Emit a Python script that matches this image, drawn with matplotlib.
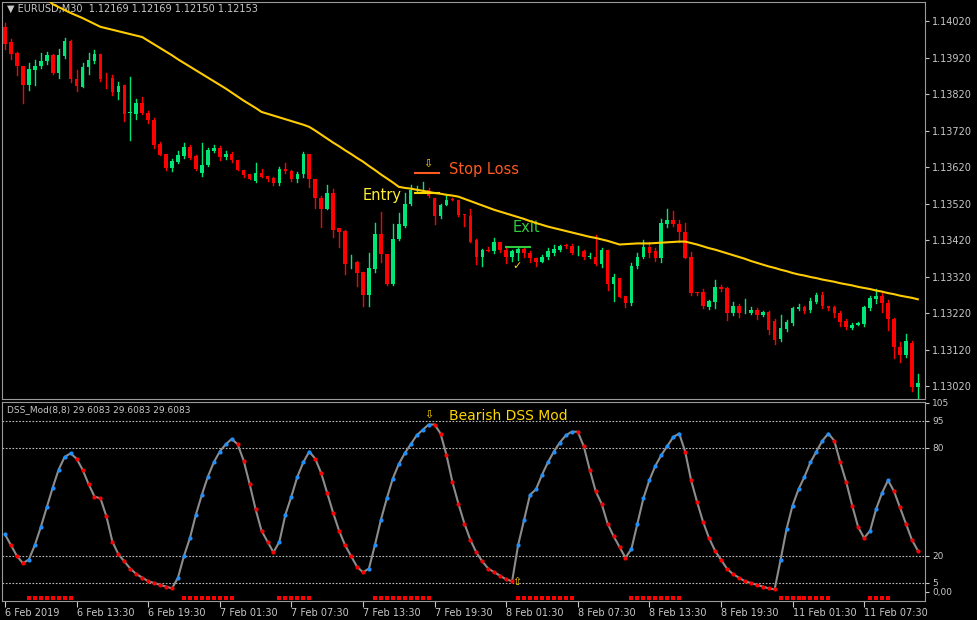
import numpy as np
import matplotlib
matplotlib.use("Agg")
import matplotlib.pyplot as plt

# --- datos (precios 1.xxxxx guardados como los 5 decimales: 14004 -> 1.14004) ---
opens = [14004, 13963, 13933, 13897, 13845, 13886, 13897, 13911, 13927, 13878,
         13924, 13965, 13862, 13840, 13894, 13911, 13930, 13862, 13864, 13826,
         13845, 13768, 13766, 13796, 13769, 13750, 13684, 13657, 13618, 13635,
         13651, 13676, 13651, 13605, 13627, 13665, 13673, 13648, 13657, 13640,
         13613, 13602, 13583, 13605, 13596, 13591, 13577, 13616, 13610, 13588,
         13602, 13657, 13586, 13536, 13506, 13550, 13452, 13446, 13359, 13359,
         13332, 13271, 13342, 13438, 13383, 13301, 13424, 13460, 13520, 13556,
         13556, 13558, 13534, 13485, 13515, 13531, 13531, 13490, 13485, 13419,
         13375, 13392, 13391, 13416, 13394, 13373, 13386, 13397, 13386, 13370,
         13359, 13373, 13384, 13394, 13405, 13405, 13389, 13389, 13375, 13375,
         13356, 13394, 13299, 13315, 13266, 13247, 13348, 13375, 13400, 13389,
         13370, 13465, 13474, 13465, 13441, 13373, 13277, 13277, 13236, 13250,
         13291, 13288, 13220, 13241, 13220, 13220, 13228, 13214, 13222, 13198,
         13149, 13176, 13193, 13231, 13236, 13228, 13250, 13269, 13241, 13236,
         13220, 13198, 13179, 13187, 13190, 13233, 13258, 13266, 13247, 13203,
         13127, 13105, 13138, 13017]
closes = [13957, 13930, 13897, 13845, 13889, 13897, 13911, 13927, 13878, 13927,
          13965, 13862, 13842, 13894, 13913, 13930, 13862, 13861, 13826, 13842,
          13766, 13768, 13796, 13769, 13750, 13681, 13654, 13618, 13638, 13654,
          13676, 13646, 13616, 13627, 13668, 13673, 13648, 13657, 13640, 13613,
          13599, 13586, 13605, 13594, 13588, 13577, 13616, 13610, 13588, 13602,
          13657, 13586, 13534, 13506, 13550, 13449, 13441, 13356, 13359, 13329,
          13271, 13345, 13438, 13381, 13301, 13424, 13463, 13520, 13556, 13557,
          13558, 13542, 13485, 13515, 13531, 13530, 13490, 13489, 13416, 13375,
          13392, 13391, 13416, 13392, 13373, 13389, 13397, 13384, 13370, 13359,
          13373, 13389, 13397, 13403, 13404, 13386, 13389, 13373, 13375, 13356,
          13394, 13299, 13318, 13263, 13247, 13348, 13375, 13400, 13384, 13370,
          13468, 13474, 13463, 13441, 13370, 13274, 13276, 13239, 13252, 13291,
          13285, 13220, 13241, 13220, 13220, 13228, 13214, 13222, 13173, 13146,
          13179, 13195, 13233, 13236, 13225, 13252, 13269, 13239, 13233, 13220,
          13195, 13181, 13187, 13192, 13236, 13261, 13266, 13247, 13203, 13127,
          13105, 13143, 13017, 13028]
wick_up = [10, 8, 3, 0, 15, 15, 20, 8, 2, 15,
           8, 3, 25, 10, 20, 10, 0, 15, 8, 12,
           0, 100, 10, 15, 5, 5, 4, 0, 5, 10,
           10, 5, 3, 60, 3, 8, 5, 8, 5, 0,
           0, 0, 25, 10, 0, 3, 5, 15, 3, 5,
           5, 0, 0, 5, 20, 10, 0, 3, 20, 5,
           0, 40, 30, 60, 0, 40, 30, 30, 15, 10,
           20, 5, 0, 5, 15, 5, 0, 0, 20, 5,
           5, 10, 10, 0, 10, 5, 5, 5, 5, 0,
           5, 10, 10, 5, 5, 5, 15, 5, 10, 60,
           5, 0, 10, 0, 0, 10, 10, 20, 15, 10,
           10, 30, 25, 10, 25, 15, 0, 10, 5, 20,
           5, 5, 10, 3, 40, 10, 5, 5, 5, 5,
           35, 5, 5, 10, 3, 10, 5, 10, 0, 5,
           5, 5, 5, 5, 5, 5, 20, 8, 10, 5,
           15, 20, 5, 25]
wick_dn = [15, 15, 25, 50, 15, 40, 5, 10, 3, 15,
           5, 10, 15, 0, 20, 5, 5, 25, 10, 20,
           20, 75, 15, 5, 10, 10, 0, 5, 10, 5,
           5, 5, 5, 10, 5, 3, 8, 5, 5, 0,
           5, 0, 3, 0, 5, 5, 5, 5, 5, 10,
           8, 20, 25, 50, 0, 20, 40, 30, 15, 35,
           30, 30, 10, 20, 5, 5, 5, 5, 5, 5,
           5, 5, 20, 5, 0, 0, 5, 30, 0, 20,
           25, 0, 5, 5, 15, 10, 20, 10, 10, 10,
           0, 5, 5, 5, 5, 5, 10, 5, 5, 5,
           10, 15, 45, 0, 10, 5, 5, 5, 10, 8,
           10, 10, 5, 25, 0, 5, 5, 5, 5, 15,
           5, 20, 5, 10, 0, 3, 10, 3, 10, 10,
           5, 5, 5, 3, 5, 5, 3, 5, 5, 10,
           10, 5, 3, 0, 5, 5, 10, 25, 30, 30,
           20, 5, 10, 40]
ma = [14180, 14165, 14150, 14135, 14120, 14105, 14092, 14080, 14066,
      14058, 14050, 14042, 14035, 14028, 14020, 14012, 14004,
      14000, 13996, 13992, 13988, 13984, 13980, 13976,
      13966, 13956, 13946, 13936, 13926, 13915, 13905, 13895, 13885, 13875,
      13865, 13855, 13845, 13835, 13824, 13813, 13802, 13792, 13782, 13771,
      13766, 13761, 13756, 13751, 13746, 13741, 13736, 13730,
      13720, 13709, 13698, 13687, 13677, 13666, 13656, 13645, 13635,
      13623, 13612, 13600, 13589, 13578, 13566,
      13563, 13561, 13558, 13555, 13552, 13549, 13547,
      13544, 13542, 13539,
      13533, 13527, 13521, 13515, 13509, 13503, 13498,
      13493, 13488, 13483, 13478, 13472, 13467, 13462, 13457,
      13453, 13449, 13445, 13441, 13437, 13433, 13429, 13426, 13422,
      13418, 13413, 13408,
      13409, 13410, 13411,
      13411, 13411, 13412, 13413, 13414, 13415, 13416, 13416,
      13412, 13408, 13403, 13398, 13394, 13389,
      13384, 13379, 13374, 13369, 13363, 13358, 13353, 13348,
      13344, 13339, 13335, 13330, 13326,
      13323, 13319, 13316, 13312, 13309, 13306, 13302, 13299,
      13296, 13292, 13289, 13286, 13282,
      13279, 13275, 13272, 13268, 13265, 13262, 13258]
dss = [32, 26, 20, 16, 18, 26, 36, 47, 58, 68, 75, 77, 74, 68, 60, 53, 52, 42, 28, 21,
       17, 13, 10, 8, 6, 5, 4, 3, 2, 8, 20, 30, 43, 54, 64, 72, 78, 82, 85, 82,
       73, 60, 46, 34, 28, 22, 28, 43, 53, 64, 72, 78, 74, 66, 55, 44, 34, 26, 20, 14,
       11, 13, 26, 40, 52, 63, 71, 77, 82, 87, 90, 93, 93, 88, 76, 61, 49, 38, 29, 22,
       17, 13, 11, 9, 7, 6, 26, 40, 54, 57, 65, 72, 78, 83, 87, 89, 89, 81, 68, 56,
       49, 38, 31, 25, 19, 24, 38, 52, 62, 70, 76, 81, 86, 88, 78, 62, 50, 39, 30, 23,
       18, 13, 10, 8, 6, 5, 4, 3, 2, 1.5, 18, 35, 48, 57, 64, 72, 78, 84, 88, 84,
       72, 61, 48, 36, 30, 34, 46, 55, 62, 56, 47, 38, 29, 23]
time_labels = ["6 Feb 2019", "6 Feb 13:30", "6 Feb 19:30", "7 Feb 01:30", "7 Feb 07:30",
               "7 Feb 13:30", "7 Feb 19:30", "8 Feb 01:30", "8 Feb 07:30", "8 Feb 13:30",
               "8 Feb 19:30", "11 Feb 01:30", "11 Feb 07:30"]
price_ticks = [1.14020, 1.13920, 1.13820, 1.13720, 1.13620, 1.13520,
               1.13420, 1.13320, 1.13220, 1.13120, 1.13020]
dss_levels = [95, 80, 20, 5]

o = 1 + np.array(opens) / 1e5
c = 1 + np.array(closes) / 1e5
h = np.maximum(o, c) + np.array(wick_up) / 1e5
l = np.minimum(o, c) - np.array(wick_dn) / 1e5
ma = 1 + np.array(ma) / 1e5
dss = np.array(dss, dtype=float)
n = len(c)
x = np.arange(n)

W, H = 977, 620
fig = plt.figure(figsize=(W / 100, H / 100), dpi=100, facecolor="black")
GREEN, RED, FG = "#00e676", "#ff0000", "#c8c8c8"
xlim = (-0.5, 154.2)

# --- panel de precio ---
ax = fig.add_axes([2 / W, 1 - 399 / H, 923 / W, 397 / H], facecolor="black")
for i in range(n):
    col = GREEN if c[i] >= o[i] else RED
    ax.plot([x[i], x[i]], [l[i], h[i]], color=col, lw=1, zorder=2)
    lo_b, hi_b = min(o[i], c[i]), max(o[i], c[i])
    ax.bar(x[i], max(hi_b - lo_b, 0.000015), bottom=lo_b, width=0.6,
           color=col, zorder=3, linewidth=0)
ax.plot(x, ma, color="#ffcc00", lw=1.5, zorder=4)
ax.set_xlim(*xlim)
ax.set_ylim(1.12985, 1.14072)
ax.set_xticks([])
ax.yaxis.tick_right()
ax.set_yticks(price_ticks)
ax.set_yticklabels([f"{p:.5f}" for p in price_ticks])
ax.tick_params(axis="y", colors=FG, labelsize=7, length=3, pad=2)
for s in ax.spines.values():
    s.set_color("#9a9a9a")
ax.text(0.005, 0.995, "\u25bc EURUSD,M30  1.12169 1.12169 1.12150 1.12153",
        transform=ax.transAxes, color=FG, fontsize=7, va="top", ha="left")

# anotaciones de la operacion
ax.plot([68.8, 72.8], [1.13605, 1.13605], color="#ff5a1f", lw=1.5, zorder=5)
ax.plot([68.8, 72.8], [1.13550, 1.13550], color="#ffd700", lw=1.5, zorder=5)
ax.plot([84, 88], [1.13400, 1.13400], color="#2ecc40", lw=1.5, zorder=5)
ax.text(70.8, 1.13630, "\u21e9", color="#ffd700", fontsize=8, ha="center", va="center")
ax.text(74.5, 1.13613, "Stop Loss", color="#ff5a1f", fontsize=10.5, va="center")
ax.text(60, 1.13542, "Entry", color="#ffee33", fontsize=10.5, va="center")
ax.text(85, 1.13455, "Exit", color="#2ecc40", fontsize=10.5, va="center")
ax.text(85.8, 1.13350, "\u2713", color="#ffd700", fontsize=8, ha="center", va="center")

# --- panel DSS ---
ax2 = fig.add_axes([2 / W, 1 - 601 / H, 923 / W, 199 / H], facecolor="black")
ax2.plot(x, dss, color="#8c8c8c", lw=1.5, zorder=2)
rising = np.r_[dss[0] > dss[1], dss[1:] > dss[:-1]]
ax2.scatter(x[rising], dss[rising], s=9, color="#1e90ff", zorder=3, linewidths=0)
ax2.scatter(x[~rising], dss[~rising], s=9, color=RED, zorder=3, linewidths=0)
up_bars = x[1:][(dss[1:] > dss[:-1]) & (dss[1:] > 15)]
ax2.scatter(up_bars, np.full(len(up_bars), -3.2), s=6, marker="s", color=RED,
            zorder=3, linewidths=0)
for lv in dss_levels:
    ax2.axhline(lv, color="#bdbdbd", lw=0.8, ls=(0, (1.5, 1.5)), zorder=1)
ax2.set_xlim(*xlim)
ax2.set_ylim(-5, 105.5)
ax2.yaxis.tick_right()
ax2.set_yticks([105, 95, 80, 20, 5, 0])
ax2.set_yticklabels(["105", "95", "80", "20", "5", "0,00"])
ax2.tick_params(axis="y", colors=FG, labelsize=6.5, length=3, pad=2)
ax2.set_xticks(np.arange(0, n, 12))
ax2.set_xticklabels(time_labels, ha="left")
ax2.tick_params(axis="x", colors=FG, labelsize=7, length=4, pad=1)
for s in ax2.spines.values():
    s.set_color("#9a9a9a")
ax2.text(0.005, 0.985, "DSS_Mod(8,8) 29.6083 29.6083 29.6083",
         transform=ax2.transAxes, color=FG, fontsize=6.5, va="top", ha="left")
ax2.text(71, 98.5, "\u21e9", color="#ffd700", fontsize=8, ha="center", va="center")
ax2.text(74.5, 97.5, "Bearish DSS Mod", color="#ffd700", fontsize=10, va="center")
ax2.text(85.8, 5.5, "\u21e7", color="#ffd700", fontsize=8, ha="center", va="center")

fig.savefig("out.png", dpi=100, facecolor="black")
